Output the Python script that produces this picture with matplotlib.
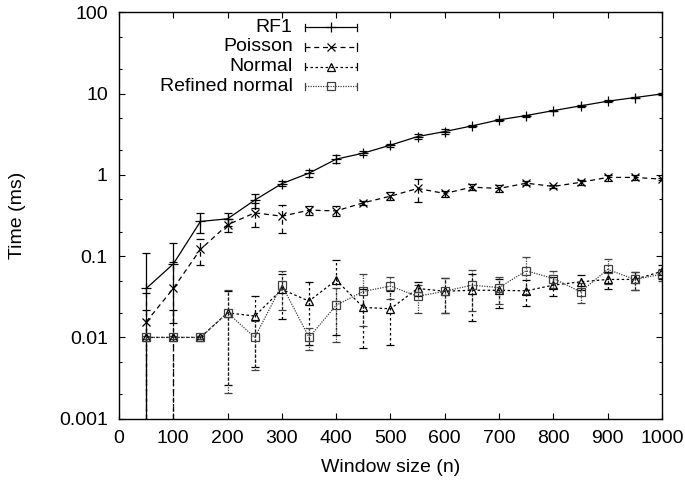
import numpy as np
import matplotlib.pyplot as plt
from matplotlib.ticker import LogLocator, NullFormatter

plt.rcParams['font.family'] = ['Liberation Sans', 'DejaVu Sans']
plt.rcParams['font.size'] = 14

# DATOS
ventana = [50, 100, 150, 200, 250, 300, 350, 400, 450, 500,
           550, 600, 650, 700, 750, 800, 850, 900, 950, 1000]

rf1 = [0.040, 0.080, 0.267, 0.288, 0.489, 0.78, 1.05, 1.56, 1.85, 2.32,
       2.96, 3.41, 4.0, 4.75, 5.37, 6.17, 7.06, 8.06, 8.93, 9.9]
rf1_err = [0.068, 0.065, 0.074, 0.05, 0.1, 0.05, 0.1, 0.18, 0.1, 0.1,
           0.2, 0.25, 0.15, 0.15, 0.15, 0.15, 0.15, 0.2, 0.2, 0.2]

poisson = [0.0155, 0.040, 0.121, 0.243, 0.341, 0.31, 0.368, 0.36, 0.453, 0.547,
           0.68, 0.59, 0.706, 0.68, 0.79, 0.72, 0.81, 0.93, 0.93, 0.885]
poisson_err = [0.02, 0.045, 0.043, 0.045, 0.11, 0.12, 0.05, 0.05, 0.03, 0.06,
               0.22, 0.05, 0.06, 0.06, 0.04, 0.03, 0.05, 0.08, 0.06, 0.03]

normal = [0.01, 0.01, 0.01, 0.0201, 0.0183, 0.039, 0.028, 0.0507, 0.0234, 0.0225,
          0.040, 0.037, 0.038, 0.038, 0.0374, 0.044, 0.0483, 0.0517, 0.0517, 0.065]
normal_err = [0.012, 0.012, 0.0005, 0.0175, 0.014, 0.022, 0.02, 0.04, 0.016, 0.0145,
              0.008, 0.017, 0.022, 0.015, 0.013, 0.012, 0.01, 0.012, 0.013, 0.012]

refinado = [0.01, 0.01, 0.01, 0.0201, 0.01, 0.044, 0.01, 0.0249, 0.0368, 0.0428,
            0.032, 0.037, 0.044, 0.041, 0.066, 0.053, 0.0364, 0.0686, 0.0517, 0.06]
refinado_err = [0.0005, 0.0005, 0.0005, 0.018, 0.006, 0.022, 0.003, 0.016, 0.023, 0.013,
                0.012, 0.017, 0.023, 0.015, 0.032, 0.012, 0.01, 0.023, 0.013, 0.01]

etiquetas = ['RF1', 'Poisson', 'Normal', 'Refined normal']

# ESTILOS (tipo gnuplot)
estilos = [
    dict(ls='-', marker='+', ms=7, color='black'),
    dict(ls=(0, (4, 3)), marker='x', ms=6, color='black'),
    dict(ls=(0, (2, 2)), marker='^', ms=5.5, color='black'),
    dict(ls=(0, (1, 1)), marker='s', ms=6, color='0.25'),
]

fig = plt.figure(figsize=(6.85, 4.8), dpi=100)
ax = fig.add_axes([0.1737, 0.1277, 0.7927, 0.8467])

series = [(rf1, rf1_err), (poisson, poisson_err), (normal, normal_err), (refinado, refinado_err)]
for (y, e), est in zip(series, estilos):
    linea, caps, barras = ax.errorbar(ventana, y, yerr=e, color=est['color'], ls=est['ls'],
                                      lw=0.9, marker=est['marker'], ms=est['ms'],
                                      mfc='none', mec=est['color'], mew=0.9,
                                      capsize=3, capthick=0.9, elinewidth=0.9)
    for b in barras:
        b.set_linestyle(est['ls'])

ax.set_yscale('log')
ax.set_xlim(0, 1000)
ax.set_ylim(0.001, 100)
ax.set_xticks(range(0, 1001, 100))
ax.set_yticks([0.001, 0.01, 0.1, 1, 10, 100], ['0.001', '0.01', '0.1', '1', '10', '100'])
ax.yaxis.set_minor_locator(LogLocator(base=10, subs=[2, 5]))
ax.yaxis.set_minor_formatter(NullFormatter())
ax.tick_params(which='both', direction='in', top=True, right=True, labelsize=14)
ax.tick_params(which='major', length=4.5, width=0.8, pad=8)
ax.tick_params(which='minor', length=2.5, width=0.8)
for s in ax.spines.values():
    s.set_linewidth(1.0)

ax.set_xlabel('Window size (n)', fontsize=14, labelpad=9)
ax.set_ylabel('Time (ms)', fontsize=14, labelpad=24)

# LEYENDA (texto alineado a la derecha, muestra a la derecha)
y0 = 0.963
paso = 0.0484
for i, (nombre, est) in enumerate(zip(etiquetas, estilos)):
    yy = y0 - i * paso
    ax.text(0.32, yy, nombre, transform=ax.transAxes, ha='right', va='center', fontsize=14)
    ax.plot([0.3425, 0.439], [yy, yy], transform=ax.transAxes, color=est['color'],
            ls=est['ls'], lw=0.9)
    ax.plot([0.391], [yy], transform=ax.transAxes, color=est['color'], marker=est['marker'],
            ms=est['ms'], mfc='none', mec=est['color'], mew=0.9)
    for xc in (0.3425, 0.439):
        ax.plot([xc, xc], [yy - 0.009, yy + 0.009], transform=ax.transAxes,
                color=est['color'], lw=0.9)

fig.savefig('out.png', dpi=100)
